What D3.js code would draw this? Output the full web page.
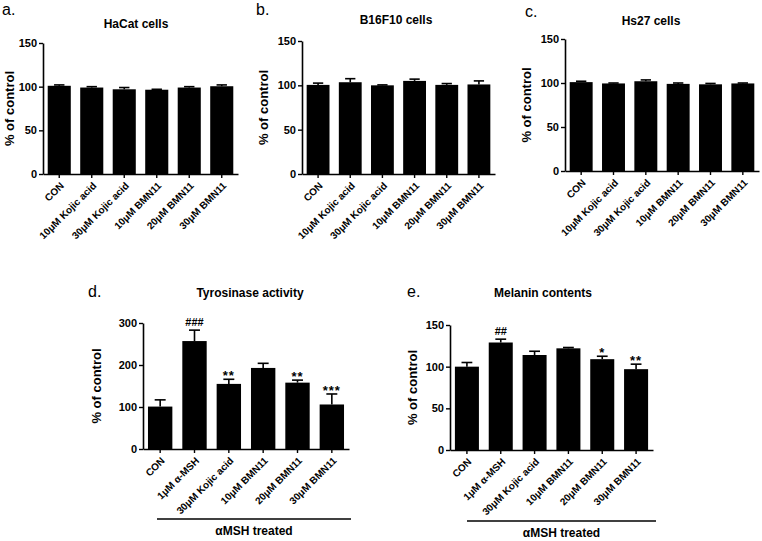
<html>
<head>
<meta charset="utf-8">
<script src="https://d3js.org/d3.v7.min.js"></script>
<style>
  body { margin: 0; background: #fff; }
  svg text { font-family: "Liberation Sans", Arial, sans-serif; }
</style>
</head>
<body>
<svg id="fig" width="762" height="541"></svg>
<script>
// categories
var cellLabels = ["CON", "10μM Kojic acid", "30μM Kojic acid", "10μM BMN11", "20μM BMN11", "30μM BMN11"];
var mshLabels = ["CON", "1μM α-MSH", "30μM Kojic acid", "10μM BMN11", "20μM BMN11", "30μM BMN11"];

// values (% of control) and SEM
var hacatMean = [101, 99, 97, 96.5, 99, 100.5];
var hacatErr = [1, 1, 2, 0.5, 1, 1.5];
var b16Mean = [100.5, 103.5, 100, 105, 100.5, 101];
var b16Err = [2, 4, 0.5, 2, 1.5, 4];
var hs27Mean = [101, 99.5, 102, 99, 98.5, 99.5];
var hs27Err = [1, 0.5, 1.5, 1, 1, 0.5];
var tyrMean = [101, 257, 155, 193, 158, 106];
var tyrErr = [16, 26, 11, 11, 6, 25];
var melMean = [100, 129, 114, 122, 109, 97];
var melErr = [5, 4, 4.5, 1, 3.5, 6];

// significance marks
var tyrMarks = ["", "###", "**", "", "**", "***"];
var melMarks = ["", "##", "", "", "*", "**"];

// tick labels
var ticks150 = [0, 50, 100, 150];
var ticks300 = [0, 100, 200, 300];

var svg = d3.select("#fig");

// one bar panel, frame given in pixels
function panel(p) {
    var g = svg.append("g");

    var x = d3.scaleBand().domain(p.labels).range([p.x0, p.x1])
        .paddingInner(0.29).paddingOuter(0.145);
    var y = d3.scaleLinear().domain([0, p.max]).range([p.y0, p.yTop]);

    var rows = p.labels.map(function(d, i) {
        return { label: d, mean: p.mean[i], err: p.err[i], mark: p.marks ? p.marks[i] : "" };
    });

    // bars
    g.selectAll(".bar").data(rows).enter().append("rect")
        .attr("x", function(d) { return x(d.label); })
        .attr("y", function(d) { return y(d.mean); })
        .attr("width", x.bandwidth())
        .attr("height", function(d) { return p.y0 - y(d.mean); })
        .attr("fill", "#000");

    // error bars (upper only)
    var cap = x.bandwidth() * 0.45;
    var eb = g.selectAll(".eb").data(rows).enter().append("g")
        .attr("stroke", "#000").attr("stroke-width", 1.6);
    eb.append("line")
        .attr("x1", function(d) { return x(d.label) + x.bandwidth() / 2; })
        .attr("x2", function(d) { return x(d.label) + x.bandwidth() / 2; })
        .attr("y1", function(d) { return y(d.mean); })
        .attr("y2", function(d) { return y(d.mean + d.err); });
    eb.append("line")
        .attr("x1", function(d) { return x(d.label) + x.bandwidth() / 2 - cap / 2; })
        .attr("x2", function(d) { return x(d.label) + x.bandwidth() / 2 + cap / 2; })
        .attr("y1", function(d) { return y(d.mean + d.err); })
        .attr("y2", function(d) { return y(d.mean + d.err); });

    // significance marks
    g.selectAll(".mark").data(rows).enter().append("text")
        .attr("x", function(d) { return x(d.label) + x.bandwidth() / 2; })
        .attr("y", function(d) { return y(d.mean + d.err) - 4; })
        .attr("text-anchor", "middle")
        .style("font-size", function(d) { return d.mark.indexOf("#") >= 0 ? "11px" : "13px"; })
        .style("font-weight", "bold")
        .style("letter-spacing", function(d) { return d.mark.indexOf("*") >= 0 ? "1px" : "0px"; })
        .attr("dy", function(d) { return d.mark.indexOf("*") >= 0 ? "0.35em" : "0"; })
        .text(function(d) { return d.mark; });

    // y axis
    var ya = g.append("g")
        .attr("transform", "translate(" + p.x0 + ",0)")
        .call(d3.axisLeft(y).tickValues(p.ticks).tickSize(4).tickSizeOuter(0).tickPadding(2));
    ya.selectAll("text").style("font-size", "11px").style("font-weight", "bold").attr("fill", "#000");

    // x axis
    var xa = g.append("g")
        .attr("transform", "translate(0," + p.y0 + ")")
        .call(d3.axisBottom(x).tickSize(4).tickSizeOuter(0));
    xa.selectAll("text")
        .attr("x", -5).attr("y", 9).attr("dy", "0.35em")
        .attr("transform", "rotate(-45)")
        .style("text-anchor", "end")
        .style("font-size", "10px").style("font-weight", "bold").attr("fill", "#000");

    [ya, xa].forEach(function(a) {
        a.select(".domain").attr("stroke-width", 1.6);
        a.selectAll(".tick line").attr("stroke-width", 1.4);
    });

    // y label
    g.append("text")
        .attr("transform", "translate(" + p.ylabX + "," + (p.y0 + p.yTop) / 2 + ") rotate(-90)")
        .attr("text-anchor", "middle")
        .style("font-size", "13px").style("font-weight", "bold")
        .text("% of control");

    // title
    g.append("text")
        .attr("x", p.titleX).attr("y", p.titleY)
        .attr("text-anchor", "middle")
        .style("font-size", "12px").style("font-weight", "bold")
        .text(p.title);

    // panel letter
    g.append("text")
        .attr("x", p.letterX).attr("y", p.letterY)
        .style("font-size", "16px")
        .text(p.letter);

    // αMSH treated bracket
    if (p.bracket) {
        g.append("line")
            .attr("x1", p.bracket[0]).attr("x2", p.bracket[1])
            .attr("y1", p.bracket[2]).attr("y2", p.bracket[2])
            .attr("stroke", "#000").attr("stroke-width", 1.6);
        g.append("text")
            .attr("x", (p.bracket[0] + p.bracket[1]) / 2).attr("y", p.bracket[2] + 16)
            .attr("text-anchor", "middle")
            .style("font-size", "12px").style("font-weight", "bold")
            .text("αMSH treated");
    }
}

panel({ labels: cellLabels, mean: hacatMean, err: hacatErr, max: 150, ticks: ticks150,
    x0: 43, x1: 238, yTop: 43, y0: 174, ylabX: 14, title: "HaCat cells", titleX: 136, titleY: 28,
    letter: "a.", letterX: 2, letterY: 15 });
panel({ labels: cellLabels, mean: b16Mean, err: b16Err, max: 150, ticks: ticks150,
    x0: 302, x1: 495, yTop: 41, y0: 174, ylabX: 268, title: "B16F10 cells", titleX: 396, titleY: 24,
    letter: "b.", letterX: 256, letterY: 15 });
panel({ labels: cellLabels, mean: hs27Mean, err: hs27Err, max: 150, ticks: ticks150,
    x0: 565, x1: 759, yTop: 39, y0: 171, ylabX: 531, title: "Hs27 cells", titleX: 651, titleY: 25,
    letter: "c.", letterX: 525, letterY: 17 });
panel({ labels: mshLabels, mean: tyrMean, err: tyrErr, max: 300, ticks: ticks300, marks: tyrMarks,
    x0: 143, x1: 349, yTop: 323, y0: 449, ylabX: 101, title: "Tyrosinase activity", titleX: 250, titleY: 297,
    letter: "d.", letterX: 88, letterY: 297, bracket: [157, 351, 519] });
panel({ labels: mshLabels, mean: melMean, err: melErr, max: 150, ticks: ticks150, marks: melMarks,
    x0: 450, x1: 653, yTop: 325, y0: 450, ylabX: 417, title: "Melanin contents", titleX: 543, titleY: 297,
    letter: "e.", letterX: 407, letterY: 297, bracket: [467, 656, 521] });
</script>
</body>
</html>
